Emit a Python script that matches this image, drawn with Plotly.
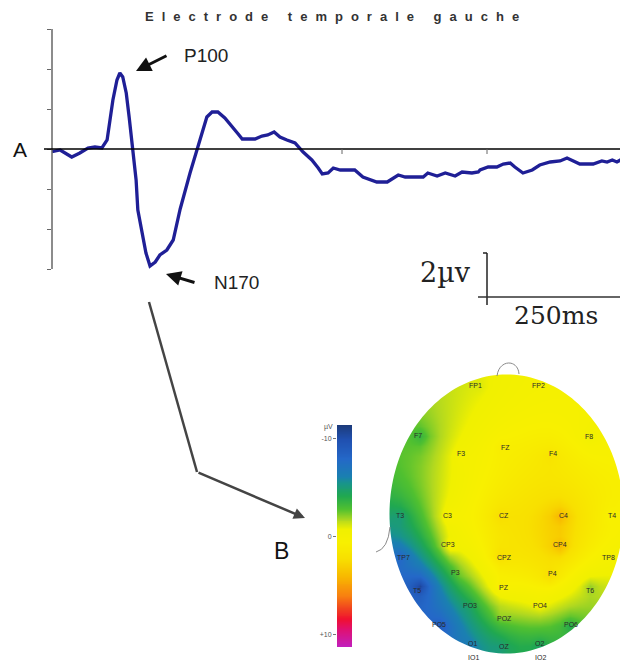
import numpy as np
import plotly.graph_objects as go

# ---------------- Data: ERP at left temporal electrode ----------------
time_ms = [0, 14, 34, 48, 62, 74, 86, 95, 100, 105, 112, 117, 122, 128, 133,
           140, 145, 148, 155, 162, 169, 178, 186, 198, 209, 221, 238, 250,
           259, 267, 276, 286, 298, 310, 321, 328, 350, 362, 372, 383, 393,
           405, 419, 433, 448, 459, 466, 476, 485, 497, 502, 522, 536, 560,
           578, 597, 609, 640, 648, 664, 678, 695, 707, 724, 735, 738, 752,
           767, 778, 790, 798, 812, 828, 841, 859, 876, 888, 898, 910, 933,
           948, 957, 966, 974, 983, 993]
amplitude_uv = [-0.13, -0.05, -0.4, -0.2, 0.05, 0.1, 0.05, 0.45, 1.45, 2.45,
                3.45, 3.8, 3.6, 2.8, 1.6, -0.05, -1.55, -3.05, -4.05, -5.2,
                -5.85, -5.65, -5.3, -5.05, -4.55, -3.0, -1.2, -0.05, 0.8, 1.6,
                1.85, 1.85, 1.55, 1.1, 0.75, 0.5, 0.5, 0.65, 0.7, 0.85, 0.6,
                0.45, 0.3, -0.15, -0.55, -0.95, -1.25, -1.2, -0.95, -1.05,
                -1.05, -1.05, -1.4, -1.65, -1.65, -1.3, -1.4, -1.4, -1.2,
                -1.35, -1.2, -1.35, -1.15, -1.2, -1.15, -1.05, -0.9, -0.9,
                -0.75, -0.7, -0.9, -1.2, -1.05, -0.8, -0.65, -0.6, -0.45,
                -0.6, -0.75, -0.75, -0.6, -0.65, -0.55, -0.65, -0.5, -0.65]
assert len(time_ms) == len(amplitude_uv)

ytick_uv = [-6, -4, -2, 0, 2, 4, 6]
xtick_ms = [500, 750]

# ---------------- Data: scalp topography at N170 ----------------
electrode_names = ["FP1", "FP2", "F7", "F3", "FZ", "F4", "F8",
                   "T3", "C3", "CZ", "C4", "T4",
                   "TP7", "CP3", "CPZ", "CP4", "TP8",
                   "T5", "P3", "PZ", "P4", "T6",
                   "PO5", "PO3", "POZ", "PO4", "PO6",
                   "O1", "OZ", "O2"]
electrode_x = [475, 538, 418, 461, 505, 553, 589,
               400, 447, 504, 563, 612,
               403, 448, 504, 560, 608,
               417, 455, 504, 552, 590,
               439, 470, 504, 540, 571,
               472, 504, 539]
electrode_y = [385, 385, 435, 453, 447, 453, 436,
               515, 515, 515, 515, 515,
               557, 544, 557, 544, 557,
               590, 572, 587, 573, 590,
               624, 605, 618, 605, 624,
               643, 646, 643]
electrode_uv = [-1.0, 0.0, -3.5, 0.0, 1.0, 2.0, -0.5,
                -5.0, 0.5, 2.5, 4.2, 0.5,
                -8.0, 0.0, 2.5, 4.0, 0.0,
                -10.5, -2.5, 1.0, 2.5, -2.0,
                -9.0, -4.5, -2.0, -0.5, -4.0,
                -6.5, -5.0, -4.5]
outside_names = ["IO1", "IO2"]
outside_x = [473, 540]
outside_y = [657, 657]

cbar_tickvals = [-10, 0, 10]
cbar_ticktext = ["-10", "0", "+10"]
ZMIN, ZMAX = -11.4, 11.3

# ---------------- Styles / geometry ----------------
VW, VH = 628, 664     # browser viewport
OFF = 8               # default body margin of the page
FW, FH = VW - OFF, VH - OFF
AX_LEFT = 52          # screen px of waveform y-axis
PX_PER_MS = 145 / 250
BASE_Y = 149
FONT = "Liberation Sans, Arial, sans-serif"


def dx(px):
    return (px - OFF) / FW


def dy(py):
    return (FH - (py - OFF)) / FH


stops = [(-11.4, "#1c3a78"), (-9.9, "#2050b0"), (-7.9, "#2468c8"),
         (-6.1, "#1a80b0"), (-5.5, "#18948c"), (-4.1, "#20a850"),
         (-2.8, "#50c030"), (-1.7, "#b0d820"), (-0.7, "#f0f000"),
         (0.6, "#f8f000"), (2.3, "#f8e000"), (4.1, "#f8b800"),
         (6.1, "#f88010"), (7.4, "#f04020"), (8.5, "#f01030"),
         (9.5, "#e01070"), (11.3, "#c020c0")]
colorscale = [[(v - ZMIN) / (ZMAX - ZMIN), c] for v, c in stops]
colorscale[0][0] = 0.0
colorscale[-1][0] = 1.0

fig = go.Figure()

# Waveform
fig.add_trace(go.Scatter(x=time_ms, y=amplitude_uv, mode="lines",
                         line=dict(color="#1f1f96", width=3.3),
                         xaxis="x", yaxis="y", hoverinfo="skip"))

# Topography grid (plotly fills the gaps between electrodes)
STEP = 10
gx = np.arange(380, 636, STEP)
gy = np.arange(366, 666, STEP)
z = [[None] * len(gx) for _ in gy]
for ex, ey, ev in zip(electrode_x, electrode_y, electrode_uv):
    i = int(round((ey - gy[0]) / STEP))
    j = int(round((ex - gx[0]) / STEP))
    z[i][j] = ev
fig.add_trace(go.Heatmap(x=gx, y=gy, z=z, connectgaps=True, zsmooth="best",
                         colorscale=colorscale, zmin=ZMIN, zmax=ZMAX,
                         showscale=False, xaxis="x2", yaxis="y2",
                         hoverinfo="skip"))

# Colour bar as its own strip
levels = np.linspace(ZMIN, ZMAX, 230)
fig.add_trace(go.Heatmap(x=[0], y=levels, z=[[v] for v in levels],
                         colorscale=colorscale, zmin=ZMIN, zmax=ZMAX,
                         showscale=False, xaxis="x3", yaxis="y3",
                         hoverinfo="skip"))

x_end_ms = (VW - AX_LEFT) / PX_PER_MS
fig.update_layout(
    width=FW, height=FH, margin=dict(l=0, r=0, t=0, b=0),
    paper_bgcolor="white", plot_bgcolor="rgba(0,0,0,0)",
    showlegend=False,
    xaxis=dict(domain=[dx(AX_LEFT), 1], range=[0, x_end_ms], visible=False,
               anchor="y"),
    yaxis=dict(domain=[dy(289), dy(9)], range=[-7, 7],
               anchor="x", showgrid=False, zeroline=False, showline=False,
               tickvals=ytick_uv, ticks="outside", ticklen=4, tickwidth=1,
               tickcolor="#666", showticklabels=False),
    # screen-pixel canvas over the whole figure
    xaxis2=dict(domain=[0, 1], range=[OFF, VW], visible=False, anchor="y2"),
    yaxis2=dict(domain=[0, 1], range=[VH, OFF], visible=False, anchor="x2"),
    xaxis3=dict(domain=[dx(337), dx(352)], range=[-0.5, 0.5], visible=False,
                anchor="y3"),
    yaxis3=dict(domain=[dy(647), dy(425)], range=[ZMAX, ZMIN],
                anchor="x3", side="left", showgrid=False, zeroline=False,
                showline=False, tickvals=cbar_tickvals, ticktext=cbar_ticktext,
                ticks="outside", ticklen=3, tickcolor="#777",
                tickfont=dict(size=7, color="#555", family=FONT)),
)

shapes = []
# y-axis line of waveform and baseline
shapes.append(dict(type="line", xref="x2", yref="y", x0=AX_LEFT, x1=AX_LEFT,
                   y0=min(ytick_uv), y1=max(ytick_uv),
                   line=dict(color="#666", width=1.5)))
shapes.append(dict(type="line", xref="x2", yref="y", x0=44, x1=VW, y0=0, y1=0,
                   line=dict(color="black", width=1.5)))
for t in xtick_ms:
    shapes.append(dict(type="line", xref="x", yref="y2", x0=t, x1=t,
                       y0=BASE_Y, y1=BASE_Y + 5,
                       line=dict(color="#666", width=1)))

# mask around head
cx, cy, a, b = 506.5, 514, 117, 139.5
th = np.linspace(0, -2 * np.pi, 181)
ell = " ".join(("M" if k == 0 else "L") + f"{cx + a*np.cos(t):.2f},{cy + b*np.sin(t):.2f}"
               for k, t in enumerate(th)) + " Z"
rect = "M370,360 L640,360 L640,672 L370,672 Z"
shapes.append(dict(type="path", xref="x2", yref="y2", path=rect + " " + ell,
                   fillcolor="white", line=dict(width=0), layer="above"))
# nose and ears
for p in ["M497,376 C499,359 518,359 519,374",
          "M376,552 Q388,549 390,527",
          "M623,527 Q629,533 628,547"]:
    shapes.append(dict(type="path", xref="x2", yref="y2", path=p,
                       line=dict(color="#8a8a8a", width=1), layer="above"))

# pointer line from N170 to map
shapes.append(dict(type="line", xref="x2", yref="y2", x0=149, y0=302,
                   x1=197, y1=472, line=dict(color="#444", width=2.5)))

# scale bar
shapes.append(dict(type="line", xref="x2", yref="y2", x0=487, x1=487,
                   y0=253, y1=305, line=dict(color="#222", width=1.5)))
shapes.append(dict(type="line", xref="x2", yref="y2", x0=483, x1=487,
                   y0=253, y1=253, line=dict(color="#222", width=1.5)))
shapes.append(dict(type="line", xref="x2", yref="y2", x0=478, x1=VW,
                   y0=297, y1=297, line=dict(color="#333", width=1.5)))
fig.update_layout(shapes=shapes)

ann = []


def txt(x, y, s, size, color="#222", family=FONT, **kw):
    ann.append(dict(x=x, y=y, xref="x2", yref="y2", text=s, showarrow=False,
                    font=dict(size=size, color=color, family=family), **kw))


txt(336, 16, '<span style="letter-spacing:8px"><b>Electrode temporale gauche</b></span>',
    13, color="#333")
txt(20, 149, "A", 21, color="#111")
txt(281, 551, "B", 23, color="#111")
txt(206, 55, "P100", 19)
txt(236, 282, "N170", 19)
txt(445, 272, "2µv", 27, family="DejaVu Serif, serif")
txt(556, 315, "250ms", 25, family="DejaVu Serif, serif")
txt(328, 427, "µV", 7, color="#555")

for n, x, y in zip(electrode_names + outside_names,
                   electrode_x + outside_x, electrode_y + outside_y):
    txt(x, y, n, 7, color="#2a2a2a")


def arrow(x, y, ax, ay, width, color, size=1):
    ann.append(dict(x=x, y=y, ax=ax, ay=ay, xref="x2", yref="y2",
                    axref="x2", ayref="y2", text="", showarrow=True,
                    arrowhead=2, arrowsize=size, arrowwidth=width,
                    arrowcolor=color))


arrow(136, 71, 168, 55, 3, "#111")
arrow(166, 274, 196, 283, 3, "#111")
arrow(305, 518, 197, 472, 2.5, "#444", 0.9)

fig.update_layout(annotations=ann)
fig.write_html("out.html")
